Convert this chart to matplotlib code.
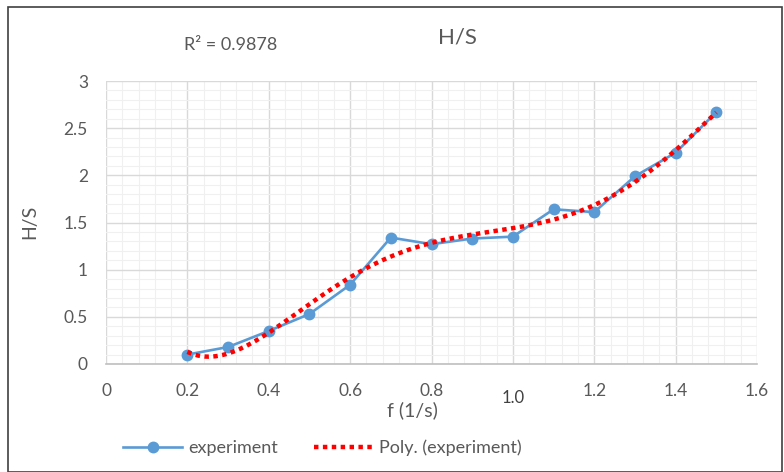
import numpy as np
import matplotlib
matplotlib.use("Agg")
import matplotlib.pyplot as plt
from matplotlib.ticker import MultipleLocator
from matplotlib.lines import Line2D
from matplotlib.patches import Rectangle

plt.rcParams['font.family'] = ['Lato', 'DejaVu Sans']

f_vals = [0.2, 0.3, 0.4, 0.5, 0.6, 0.7, 0.8, 0.9, 1.0, 1.1, 1.2, 1.3, 1.4, 1.5]
hs_vals = [0.10, 0.18, 0.35, 0.53, 0.84, 1.34, 1.27, 1.33, 1.35, 1.64, 1.61, 1.99, 2.24, 2.67]
x_ticks = [0, 0.2, 0.4, 0.6, 0.8, 1.0, 1.2, 1.4, 1.6]
x_tick_labels = ["0", "0.2", "0.4", "0.6", "0.8", "", "1.2", "1.4", "1.6"]
y_ticks = [0, 0.5, 1, 1.5, 2, 2.5, 3]
y_tick_labels = ["0", "0.5", "1", "1.5", "2", "2.5", "3"]
r2_text = "R² = 0.9878"
r2_target = 0.9878

W, H = 784, 472
fig = plt.figure(figsize=(W / 100, H / 100), dpi=100)
ax = fig.add_axes([106 / W, 1 - 364 / H, (757 - 106) / W, (364 - 81) / H])

gray = '#595959'
blue = '#5B9BD5'

x = np.array(f_vals)
y = np.array(hs_vals)
best = None
for deg in range(2, 7):
    c = np.polyfit(x, y, deg)
    r2 = 1 - np.sum((y - np.polyval(c, x)) ** 2) / np.sum((y - y.mean()) ** 2)
    if best is None or abs(r2 - r2_target) < best[0]:
        best = (abs(r2 - r2_target), c, deg, r2)
coef = best[1]
xf = np.linspace(x.min(), x.max(), 300)
yf = np.polyval(coef, xf)

ax.plot(x, y, color=blue, lw=1.9, marker='o', ms=7.5, zorder=3)
ax.plot(xf, yf, color='#FF0000', lw=3.2, ls=(0, (1, 1)), dash_capstyle='butt', zorder=4)

ax.set_xlim(0, 1.6)
ax.set_ylim(0, 3)
ax.set_xticks(x_ticks)
ax.set_xticklabels(x_tick_labels)
ax.set_yticks(y_ticks)
ax.set_yticklabels(y_tick_labels)
ax.xaxis.set_minor_locator(MultipleLocator(0.04))
ax.yaxis.set_minor_locator(MultipleLocator(0.1))
ax.grid(which='major', color='#d9d9d9', lw=1.0)
ax.grid(which='minor', color='#f0f0f0', lw=0.8)
ax.set_axisbelow(True)
ax.tick_params(which='both', length=0, labelsize=12.5, labelcolor=gray)
ax.tick_params(axis='x', pad=14)
ax.tick_params(axis='y', pad=13)
for s in ['top', 'right', 'left']:
    ax.spines[s].set_visible(False)
ax.spines['bottom'].set_color('#bfbfbf')
ax.spines['bottom'].set_linewidth(1.2)

ax.text(1.0, -0.12, "1.0", transform=ax.get_xaxis_transform(), ha='center', va='center',
        fontsize=12, color='#404040')

fig.text(412 / W, 1 - 410 / H, "f (1/s)", ha='center', va='center', fontsize=14, color=gray)
fig.text(30 / W, 1 - 222 / H, "H/S", ha='center', va='center', rotation=90, fontsize=14, color=gray)
fig.text(457 / W, 1 - 38 / H, "H/S", ha='center', va='center', fontsize=16, color=gray)
fig.text(231 / W, 1 - 45 / H, r2_text, ha='center', va='center', fontsize=13, color=gray)

handles = [Line2D([], [], color=blue, lw=1.9, marker='o', ms=7.5),
           Line2D([], [], color='#FF0000', lw=3.2, ls=(0, (1, 1)))]
fig.legend(handles, ["experiment", "Poly. (experiment)"], loc='center',
           bbox_to_anchor=(322 / W, 1 - 448 / H), ncol=2, frameon=False,
           fontsize=13, labelcolor=gray, handlelength=3.3, handletextpad=0.3,
           columnspacing=2.0)

fig.patches.append(Rectangle((8 / W, 0), (782 - 8) / W, 1 - 7 / H, transform=fig.transFigure,
                             fill=False, edgecolor='#404040', lw=1.2))

fig.savefig("out.png", dpi=100)
